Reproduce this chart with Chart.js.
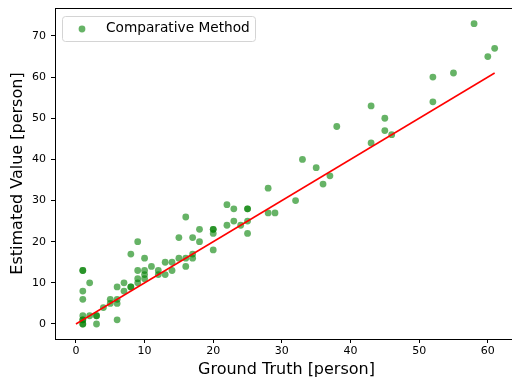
<!DOCTYPE html>
<html>
<head>
<meta charset="utf-8">
<script src="https://cdn.jsdelivr.net/npm/chart.js@4"></script>
<style>
  html, body { margin: 0; padding: 0; background: #fff; overflow: hidden; }
  #wrap { width: 512px; height: 385px; overflow: hidden; }
</style>
</head>
<body>
<div id="wrap"><canvas id="chart" width="522" height="385"></canvas></div>
<script>
// Ground truth vs. estimated counts (duplicates = darker overlapping dots)
const groundTruth = [58, 61, 60, 52, 55, 52, 43, 45, 45, 46, 38, 43, 33, 35, 37, 36, 32, 28, 28, 29,
  22, 23, 25, 25, 22, 23, 24, 25, 25, 20, 20, 20, 20, 18, 18, 17, 16, 15, 17, 17,
  16, 15, 16, 14, 13, 14, 13, 12, 12, 11, 10, 10, 10, 10, 9, 9, 9, 9, 8, 8,
  8, 7, 7, 6, 6, 6, 6, 5, 5, 4, 3, 3, 3, 2, 2, 1, 1, 1, 1, 1,
  1, 1, 1, 1];
const estimated = [73, 67, 65, 60, 61, 54, 53, 50, 47, 46, 48, 44, 40, 38, 36, 34, 30, 33, 27, 27,
  29, 28, 28, 28, 24, 25, 24, 25, 22, 23, 23, 22, 18, 23, 20, 21, 26, 21, 17, 16,
  16, 16, 14, 15, 15, 13, 12, 13, 12, 14, 16, 13, 12, 11, 20, 13, 11, 10, 17, 9,
  9, 10, 8, 9, 6, 5, 1, 6, 5, 4, 2, 2, 0, 10, 2, 13, 13, 8, 6, 2,
  1, 1, 0, 0];
const fitX = [0, 61];
const fitY = [0, 61];
const xTicks = [0, 10, 20, 30, 40, 50, 60];
const yTicks = [0, 10, 20, 30, 40, 50, 60, 70];
const legendLabel = "Comparative Method";

const pointColor = "rgba(0,128,0,0.6)";
const font = "'DejaVu Sans', sans-serif";

// drop Chart.js' own edge padding so the plot box sits where matplotlib put it
const noPad = (scale) => {
  scale.paddingTop = 0;
  scale.paddingBottom = 0;
  scale.paddingLeft = 0;
  scale.paddingRight = 0;
};

// Top spine + matplotlib-like legend box
const framePlugin = {
  id: "frame",
  afterDatasetsDraw(chart) {
    const { ctx, chartArea } = chart;
    ctx.save();
    ctx.strokeStyle = "#000";
    ctx.lineWidth = 1;
    ctx.beginPath();
    ctx.moveTo(chartArea.left, Math.round(chartArea.top) + 0.5);
    ctx.lineTo(chart.width, Math.round(chartArea.top) + 0.5);
    ctx.stroke();

    // legend
    const bx = 62, by = 16, bw = 193, bh = 25, r = 3;
    ctx.fillStyle = "rgba(255,255,255,0.8)";
    ctx.strokeStyle = "#d4d4d4";
    ctx.beginPath();
    ctx.roundRect(bx + 0.5, by + 0.5, bw, bh, r);
    ctx.fill();
    ctx.stroke();
    ctx.fillStyle = pointColor;
    ctx.beginPath();
    ctx.arc(82, 29, 3.4, 0, Math.PI * 2);
    ctx.fill();
    ctx.fillStyle = "#000";
    ctx.font = "13.7px " + font;
    ctx.textBaseline = "middle";
    ctx.fillText(legendLabel, 106, 28);
    ctx.restore();
  }
};

const ctx = document.getElementById("chart").getContext("2d");
new Chart(ctx, {
  type: "scatter",
  data: {
    datasets: [
      {
        label: legendLabel,
        data: groundTruth.map((g, i) => ({ x: g, y: estimated[i] })),
        backgroundColor: pointColor,
        borderWidth: 0,
        pointRadius: 3.4,
        order: 2
      },
      {
        type: "line",
        label: "fit",
        data: fitX.map((x, i) => ({ x: x, y: fitY[i] })),
        borderColor: "#ff0000",
        borderWidth: 1.5,
        pointRadius: 0,
        fill: false,
        order: 1
      }
    ]
  },
  options: {
    responsive: false,
    animation: false,
    layout: { padding: { left: 0, top: 8, right: 0, bottom: 0 } },
    plugins: {
      legend: { display: false },
      tooltip: { enabled: false }
    },
    scales: {
      x: {
        type: "linear",
        min: -3.05,
        max: 64.4,
        afterBuildTicks: (scale) => { scale.ticks = xTicks.map(v => ({ value: v })); },
        afterFit: (scale) => { scale.height = 46; noPad(scale); },
        grid: { drawOnChartArea: false, color: "#000", tickLength: 4 },
        border: { display: true, color: "#000", width: 1 },
        ticks: { color: "#000", font: { family: font, size: 11 }, padding: 2, maxRotation: 0 },
        title: {
          display: true,
          text: "Ground Truth [person]",
          color: "#000",
          font: { family: font, size: 16 },
          padding: { top: 0, bottom: 6 }
        }
      },
      y: {
        type: "linear",
        min: -3.65,
        max: 76.8,
        afterBuildTicks: (scale) => { scale.ticks = yTicks.map(v => ({ value: v })); },
        afterFit: (scale) => { scale.width = 55; noPad(scale); },
        grid: { drawOnChartArea: false, color: "#000", tickLength: 4 },
        border: { display: true, color: "#000", width: 1 },
        ticks: { color: "#000", font: { family: font, size: 11 }, padding: 5 },
        title: {
          display: true,
          text: "Estimated Value [person]",
          color: "#000",
          font: { family: font, size: 16 },
          padding: { top: 8, bottom: 0 }
        }
      }
    }
  },
  plugins: [framePlugin]
});
</script>
</body>
</html>
